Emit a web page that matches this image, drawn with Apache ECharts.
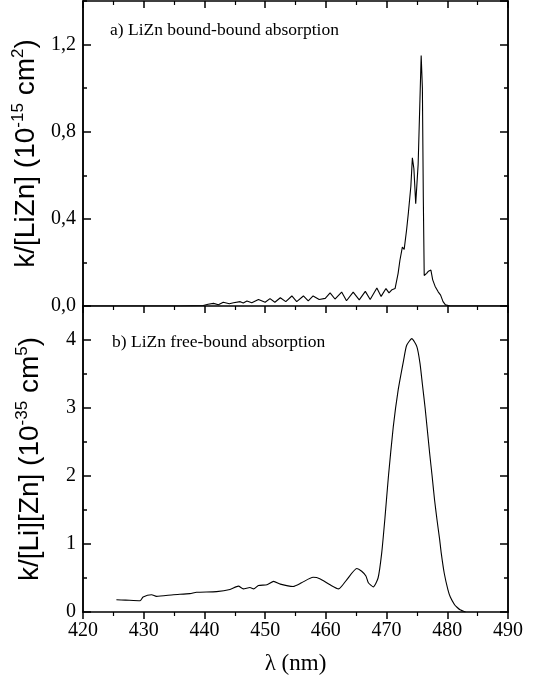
<!DOCTYPE html>
<html>
<head>
<meta charset="utf-8">
<script src="https://cdn.jsdelivr.net/npm/echarts@6/dist/echarts.min.js"></script>
<style>
html, body { margin: 0; padding: 0; background: #fff; }
#chart { width: 535px; height: 680px; }
</style>
</head>
<body>
<div id="chart"></div>
<script>
// a) bound-bound absorption, k/[LiZn] in 10^-15 cm^2
var wlBound = [420, 436, 439.8, 440.6, 441.5, 442.3, 443.1, 444.1, 444.8, 445.9,
    446.4, 447.0, 447.8, 448.9, 450.0, 450.8, 451.6, 452.5, 453.4, 454.4,
    455.2, 456.3, 457.1, 457.9, 458.9, 459.9, 460.7, 461.5, 462.6, 463.4,
    464.5, 465.5, 466.5, 467.3, 468.4, 469.1, 469.9, 470.4, 470.9, 471.4,
    471.9, 472.2, 472.6, 472.9, 473.3, 473.6, 474.0, 474.25, 474.5, 474.8,
    475.2, 475.5, 475.7, 475.9, 476.05, 476.2, 476.6, 476.9, 477.3, 477.6,
    478.0, 478.5, 478.9, 479.3, 479.7, 480.5, 490];
var kBound = [0, 0, 0.002, 0.008, 0.012, 0.006, 0.017, 0.01, 0.015, 0.02,
    0.014, 0.023, 0.015, 0.03, 0.017, 0.034, 0.017, 0.038, 0.02, 0.046,
    0.02, 0.046, 0.023, 0.046, 0.03, 0.035, 0.06, 0.032, 0.064, 0.024,
    0.064, 0.028, 0.067, 0.03, 0.083, 0.044, 0.08, 0.06, 0.075, 0.08,
    0.15, 0.21, 0.27, 0.26, 0.35, 0.43, 0.55, 0.68, 0.63, 0.47,
    0.65, 0.95, 1.15, 1.0, 0.5, 0.14, 0.15, 0.16, 0.165, 0.12,
    0.09, 0.065, 0.05, 0.02, 0.005, 0, 0];

// b) free-bound absorption, k/[Li][Zn] in 10^-35 cm^5
var wlFree = [425.5, 427, 429.4, 429.9, 431.3, 432.1, 434.9, 437.6, 438.7, 442.0,
    444.2, 445.6, 446.4, 447.5, 448.1, 448.9, 450.3, 451.4, 452.5, 454.6,
    456.0, 457.9, 459.0, 460.7, 462.1, 463.4, 465.1, 465.9, 466.6, 467.0,
    467.8, 468.6, 469.2, 469.75, 470.3, 471.1, 471.9, 472.8, 473.3, 474.15,
    475.0, 475.5, 475.9, 476.35, 477.1, 477.5, 477.9, 478.3, 478.75, 479.0,
    479.5, 480.1, 480.5, 481.2, 481.6, 482.1, 483.0];
var kFree = [0.18, 0.175, 0.166, 0.22, 0.254, 0.23, 0.254, 0.27, 0.29, 0.30,
    0.33, 0.38, 0.34, 0.36, 0.34, 0.39, 0.40, 0.45, 0.41, 0.376,
    0.43, 0.51, 0.49, 0.40, 0.34, 0.47, 0.64, 0.60, 0.53, 0.43,
    0.37, 0.50, 0.87, 1.40, 1.99, 2.72, 3.26, 3.70, 3.92, 4.02,
    3.90, 3.66, 3.35, 3.00, 2.33, 2.00, 1.65, 1.36, 1.06, 0.87,
    0.57, 0.33, 0.22, 0.107, 0.07, 0.034, 0];

var chart = echarts.init(document.getElementById('chart'));

function zip(xs, ys) {
    return xs.map(function (x, i) { return [x, ys[i]]; });
}

var black = '#000';
var serif = 'Liberation Serif';
var sans = 'Liberation Sans';
var frame = { color: black, width: 1.5 };

function xAx(grid, pos, inside, labels) {
    return {
        type: 'value', gridIndex: grid, position: pos,
        min: 420, max: 490, interval: 10,
        axisLine: { onZero: false, lineStyle: frame },
        axisTick: { inside: inside, length: 7, lineStyle: frame },
        minorTick: { show: true, splitNumber: 2, length: 4, lineStyle: { color: black, width: 1.2 } },
        axisLabel: { show: labels, fontFamily: serif, fontSize: 20, color: black, margin: 9 },
        splitLine: { show: false }
    };
}

function yAx(grid, pos, max, step, len, labels, fmt) {
    return {
        type: 'value', gridIndex: grid, position: pos,
        min: 0, max: max, interval: step,
        axisLine: { show: true, onZero: false, lineStyle: frame },
        axisTick: { inside: true, length: len, lineStyle: frame },
        axisLabel: { show: labels, showMaxLabel: false, fontFamily: serif, fontSize: 20, color: black, margin: 7, formatter: fmt },
        splitLine: { show: false }
    };
}

var commaFmt = function (v) { return v.toFixed(1).replace('.', ','); };
var intFmt = function (v) { return String(Math.round(v)); };

var nameRich = {
    m: { fontFamily: sans, fontSize: 28, color: black, lineHeight: 32 },
    s: { fontFamily: sans, fontSize: 17, color: black, lineHeight: 17, verticalAlign: 'top' }
};

var yTop = yAx(0, 'left', 1.4, 0.4, 8, true, commaFmt);
yTop.name = '{m|k/[LiZn] (10}{s|-15}{m| cm}{s|2}{m|)}';
yTop.nameLocation = 'middle';
yTop.nameRotate = 90;
yTop.nameGap = 39;
yTop.nameTextStyle = { rich: nameRich };

var yBot = yAx(1, 'left', 4.5, 1, 8, true, intFmt);
yBot.name = '{m|k/[Li][Zn] (10}{s|-35}{m| cm}{s|5}{m|)}';
yBot.nameLocation = 'middle';
yBot.nameRotate = 90;
yBot.nameGap = 37;
yBot.nameTextStyle = { rich: nameRich };

var xBottom = xAx(1, 'bottom', false, true);
xBottom.name = 'λ (nm)';
xBottom.nameLocation = 'middle';
xBottom.nameGap = 40;
xBottom.nameTextStyle = { fontFamily: serif, fontSize: 23, color: black };

var option = {
    animation: false,
    backgroundColor: '#fff',
    title: [
        { text: 'a) LiZn bound-bound absorption', left: 110, top: 21, padding: 0,
          textStyle: { fontFamily: serif, fontSize: 17.5, fontWeight: 'normal', color: black } },
        { text: 'b) LiZn free-bound absorption', left: 112, top: 333, padding: 0,
          textStyle: { fontFamily: serif, fontSize: 17.5, fontWeight: 'normal', color: black } }
    ],
    grid: [
        { left: 83, right: 27, top: 1, height: 305 },
        { left: 83, right: 27, top: 306, height: 306 }
    ],
    xAxis: [
        xAx(0, 'bottom', false, false),
        xAx(0, 'top', true, false),
        xBottom
    ],
    yAxis: [
        yTop,
        yAx(0, 'left', 1.4, 0.2, 4, false),
        yAx(0, 'right', 1.4, 0.4, 8, false),
        yAx(0, 'right', 1.4, 0.2, 4, false),
        yBot,
        yAx(1, 'left', 4.5, 0.5, 4, false),
        yAx(1, 'right', 4.5, 1, 8, false),
        yAx(1, 'right', 4.5, 0.5, 4, false)
    ],
    series: [
        {
            type: 'line', xAxisIndex: 0, yAxisIndex: 0,
            data: zip(wlBound, kBound),
            showSymbol: false, symbol: 'none',
            lineStyle: { color: black, width: 1.1 }
        },
        {
            type: 'line', xAxisIndex: 2, yAxisIndex: 4,
            data: zip(wlFree, kFree),
            showSymbol: false, symbol: 'none', smooth: 0.2,
            lineStyle: { color: black, width: 1.1 }
        }
    ]
};

chart.setOption(option);
</script>
</body>
</html>
